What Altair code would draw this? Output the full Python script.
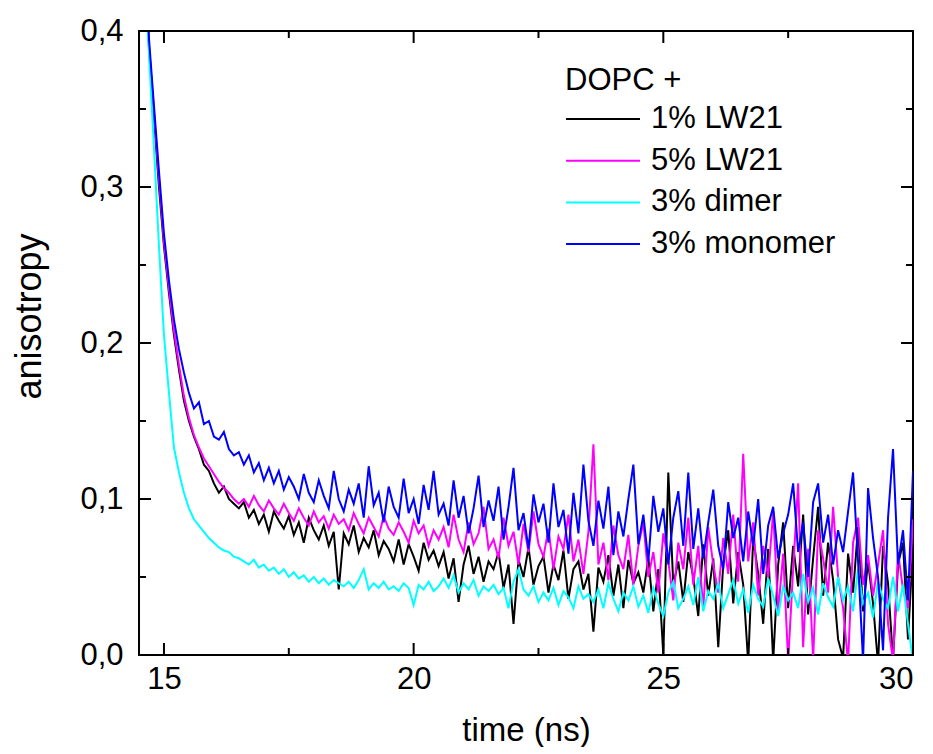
import altair as alt
import numpy as np
import pandas as pd

# time axis (ns), 0.1 ns steps from 14.6 to 30.0
time_ns = np.round(np.arange(14.6, 30.0001, 0.1), 2)

series_names = ["1% LW21", "5% LW21", "3% dimer", "3% monomer"]
series_colors = ["#000000", "#FF00FF", "#00FFFF", "#0000FF"]

lw21_1 = [
    0.46, 0.39, 0.345, 0.30, 0.262, 0.232, 0.205, 0.183, 0.163, 0.150,
    0.140, 0.132, 0.122, 0.118, 0.110, 0.104, 0.108, 0.100, 0.097, 0.094,
    0.098, 0.088, 0.093, 0.084, 0.090, 0.079, 0.092, 0.086, 0.081, 0.089,
    0.077, 0.085, 0.072, 0.088, 0.080, 0.074, 0.083, 0.070, 0.079, 0.042,
    0.078, 0.071, 0.083, 0.066, 0.075, 0.069, 0.080, 0.064, 0.073, 0.068,
    0.060, 0.074, 0.058, 0.071, 0.063, 0.054, 0.072, 0.061, 0.067, 0.057,
    0.066, 0.049, 0.062, 0.034, 0.058, 0.070, 0.052, 0.063, 0.047, 0.060,
    0.055, 0.066, 0.043, 0.058, 0.020, 0.061, 0.050, 0.069, 0.045, 0.057,
    0.063, 0.040, 0.058, 0.048, 0.067, 0.036, 0.055, 0.060, 0.042, 0.052,
    0.015, 0.056, 0.047, 0.064, 0.038, 0.058, 0.030, 0.061, 0.046, 0.053,
    0.040, 0.062, 0.028, 0.055, 0.000, 0.117, 0.045, 0.060, 0.034, 0.066,
    0.050, 0.025, 0.071, 0.038, 0.062, 0.005, 0.058, 0.080, 0.033, 0.066,
    0.045, -0.005, 0.075, 0.052, 0.020, 0.068, -0.004, 0.058, 0.085, 0.030,
    0.070, 0.044, 0.090, 0.026, 0.062, 0.095, 0.038, 0.072, 0.048, 0.010,
    -0.002, 0.065, 0.040, 0.082, 0.028, 0.060, 0.033, -0.006, 0.070, 0.046,
    -0.003, 0.058, 0.072, 0.010, 0.070,
]

lw21_5 = [
    0.46, 0.39, 0.348, 0.305, 0.265, 0.235, 0.208, 0.186, 0.166, 0.152,
    0.141, 0.133, 0.126, 0.121, 0.116, 0.111, 0.107, 0.104, 0.100, 0.097,
    0.100, 0.095, 0.102, 0.096, 0.092, 0.099, 0.094, 0.090, 0.097, 0.091,
    0.086, 0.094, 0.088, 0.083, 0.092, 0.085, 0.089, 0.081, 0.090, 0.084,
    0.087, 0.080, 0.091, 0.084, 0.078, 0.088, 0.082, 0.076, 0.089, 0.081,
    0.077, 0.085, 0.079, 0.072, 0.086, 0.078, 0.083, 0.070, 0.080, 0.074,
    0.082, 0.069, 0.090, 0.074, 0.066, 0.085, 0.071, 0.078, 0.095, 0.068,
    0.074, 0.062, 0.088, 0.070, 0.079, 0.058, 0.084, 0.066, 0.092, 0.071,
    0.063, 0.081, 0.055, 0.076, 0.068, 0.090, 0.060, 0.074, 0.052, 0.079,
    0.135, 0.058, 0.072, 0.048, 0.083, 0.064, 0.055, 0.077, 0.045, 0.070,
    0.085, 0.050, 0.066, 0.040, 0.078, 0.060, 0.035, 0.072, 0.055, 0.088,
    0.045, 0.070, 0.030, 0.082, 0.058, 0.040, 0.075, 0.052, 0.090, 0.047,
    0.129, 0.060, 0.085, 0.038, 0.070, 0.050, 0.092, 0.028, 0.065, -0.004,
    0.055, 0.110, 0.005, 0.068, -0.003, 0.080, 0.062, 0.040, 0.095, 0.050,
    0.030, -0.005, 0.072, 0.088, 0.045, 0.064, 0.038, 0.058, 0.080, 0.020,
    -0.004, 0.066, 0.042, 0.030, 0.087,
]

dimer_3 = [
    0.45, 0.385, 0.325, 0.262, 0.205, 0.168, 0.133, 0.117, 0.104, 0.094,
    0.087, 0.083, 0.079, 0.075, 0.072, 0.069, 0.067, 0.066, 0.063, 0.062,
    0.060, 0.058, 0.061, 0.056, 0.058, 0.054, 0.056, 0.052, 0.055, 0.050,
    0.053, 0.049, 0.051, 0.047, 0.050, 0.046, 0.049, 0.045, 0.048, 0.046,
    0.044, 0.047, 0.043, 0.048, 0.055, 0.042, 0.046, 0.043, 0.047, 0.042,
    0.044, 0.041, 0.046, 0.043, 0.032, 0.045, 0.042, 0.047, 0.041, 0.044,
    0.049, 0.043, 0.051, 0.040, 0.046, 0.042, 0.048, 0.038, 0.044, 0.041,
    0.045, 0.039, 0.043, 0.030, 0.047, 0.055, 0.042, 0.038, 0.044, 0.034,
    0.040, 0.035, 0.043, 0.032, 0.041, 0.037, 0.030, 0.044, 0.036, 0.039,
    0.034, 0.042, 0.030, 0.046, 0.036, 0.028, 0.040, 0.035, 0.044, 0.031,
    0.038, 0.027, 0.043, 0.033, 0.025, 0.040, 0.047, 0.030, 0.036, 0.044,
    0.032, 0.050, 0.028, 0.041, 0.036, 0.046, 0.030, 0.039, 0.048, 0.033,
    0.042, 0.027, 0.045, 0.036, 0.031, 0.049, 0.038, 0.025, 0.044, 0.035,
    0.040, 0.030, 0.052, 0.034, 0.043, 0.026, 0.046, 0.037, 0.031, 0.050,
    0.035, 0.044, 0.028, 0.055, 0.033, 0.040, 0.024, 0.047, 0.036, 0.030,
    0.050, 0.028, 0.045, 0.020, -0.004,
]

monomer_3 = [
    0.47, 0.395, 0.352, 0.31, 0.27, 0.24, 0.215, 0.196, 0.181, 0.168,
    0.158, 0.162, 0.148, 0.150, 0.140, 0.138, 0.143, 0.132, 0.128, 0.130,
    0.122, 0.128, 0.117, 0.123, 0.112, 0.120, 0.110, 0.118, 0.106, 0.114,
    0.108, 0.100, 0.116, 0.104, 0.098, 0.112, 0.102, 0.094, 0.118, 0.100,
    0.092, 0.106, 0.097, 0.110, 0.088, 0.121, 0.096, 0.104, 0.085, 0.108,
    0.095, 0.088, 0.113, 0.091, 0.100, 0.084, 0.109, 0.093, 0.118, 0.090,
    0.097, 0.083, 0.112, 0.088, 0.102, 0.078, 0.094, 0.115, 0.082, 0.099,
    0.086, 0.108, 0.074, 0.095, 0.120, 0.080, 0.091, 0.068, 0.103, 0.085,
    0.097, 0.072, 0.110, 0.082, 0.093, 0.065, 0.104, 0.078, 0.122, 0.086,
    0.070, 0.099, 0.081, 0.108, 0.064, 0.092, 0.076, 0.100, 0.122, 0.071,
    0.090, 0.060, 0.102, 0.079, 0.094, 0.058, 0.088, 0.105, 0.070, 0.117,
    0.068, 0.094, 0.062, 0.085, 0.106, 0.070, 0.055, 0.098, 0.075, 0.088,
    0.060, 0.092, 0.070, 0.100, 0.052, 0.083, 0.095, 0.062, 0.078, 0.090,
    0.110, 0.066, 0.085, 0.050, 0.098, 0.110, 0.072, 0.090, 0.058, 0.080,
    0.066, 0.092, 0.117, 0.060, -0.004, 0.107, 0.075, 0.050, 0.003, 0.088,
    0.132, 0.058, 0.080, 0.035, 0.118,
]

x_major = [15, 20, 25, 30]
x_minor = [17.5, 22.5, 27.5]
y_major = [0.0, 0.1, 0.2, 0.3, 0.4]
y_minor = [0.05, 0.15, 0.25, 0.35]

W, H = 774, 624
FONT = "Liberation Sans"

frames = []
for name, vals in zip(series_names, [lw21_1, lw21_5, dimer_3, monomer_3]):
    frames.append(pd.DataFrame({"t": time_ns, "r": vals, "series": name}))
df = pd.concat(frames, ignore_index=True)
df["order"] = df["series"].map({n: i for i, n in enumerate(series_names)})

xscale = alt.Scale(domain=[14.5, 30], nice=False, zero=False)
yscale = alt.Scale(domain=[0, 0.4], nice=False)

xaxis = alt.Axis(values=x_major, format="d", grid=False, domain=False, ticks=False,
                 tickSize=0, labelPadding=9, labelFontSize=31, labelColor="black",
                 title="time (ns)", titleFontSize=33, titleFontWeight="normal",
                 titleColor="black", titleY=85, titleBaseline="alphabetic")
yaxis = alt.Axis(values=y_major, labelExpr="replace(format(datum.value, '.1f'), '.', ',')",
                 grid=False, domain=False, ticks=False, tickSize=0, labelPadding=16,
                 labelFontSize=31, labelColor="black",
                 title="anisotropy", titleFontSize=36, titleFontWeight="normal",
                 titleColor="black", titleX=-110, titleY=285, titleAngle=270,
                 titleAlign="center", titleBaseline="middle")

X = alt.X("t:Q", scale=xscale, axis=xaxis)
Y = alt.Y("r:Q", scale=yscale, axis=yaxis)

lines = alt.Chart(df).mark_line(strokeWidth=2, clip=True).encode(
    x=X,
    y=Y,
    color=alt.Color("series:N",
                    scale=alt.Scale(domain=series_names, range=series_colors),
                    legend=alt.Legend(title="DOPC +", orient="none", legendX=426, legendY=35,
                                      symbolType="stroke", symbolSize=5476,
                                      symbolStrokeWidth=2, labelOffset=10,
                                      labelFontSize=31, titleFontSize=31, labelLimit=400,
                                      titleFontWeight="normal", titleColor="black",
                                      labelColor="black", clipHeight=28, rowPadding=10.7,
                                      titlePadding=8, padding=0)),
    order=alt.Order("order:Q"),
    detail="series:N",
)

def tick_layer(values, field, length, side):
    d = pd.DataFrame({field: values})
    ch = alt.Chart(d).mark_rule(color="black", strokeWidth=2)
    if side == "bottom":
        return ch.encode(x=X, y=alt.value(H), y2=alt.value(H - length))
    if side == "top":
        return ch.encode(x=X, y=alt.value(0), y2=alt.value(length))
    if side == "left":
        return ch.encode(y=Y, x=alt.value(0), x2=alt.value(length))
    return ch.encode(y=Y, x=alt.value(W), x2=alt.value(W - length))

ticks = []
for side in ["bottom", "top"]:
    ticks.append(tick_layer(x_major, "t", 12, side))
    ticks.append(tick_layer(x_minor, "t", 7, side))
for side in ["left", "right"]:
    ticks.append(tick_layer(y_major, "r", 12, side))
    ticks.append(tick_layer(y_minor, "r", 7, side))

chart = alt.layer(lines, *ticks).properties(
    width=W, height=H,
    autosize=alt.AutoSizeParams(type="none"),
    padding={"left": 131, "top": 23, "right": 12, "bottom": 92},
).configure(font=FONT).configure_view(stroke="black", strokeWidth=2)

chart.save("out.html", embed_options={"renderer": "svg", "actions": False})
